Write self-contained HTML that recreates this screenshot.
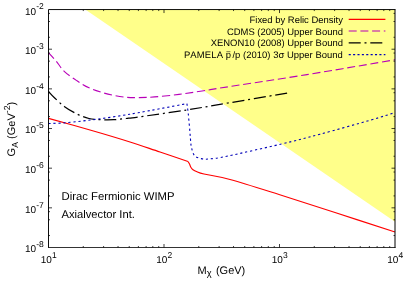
<!DOCTYPE html>
<html><head><meta charset="utf-8"><title>plot</title>
<style>
html,body{margin:0;padding:0;background:#fff;}
body{width:407px;height:285px;overflow:hidden;}
svg{display:block;opacity:0.999;will-change:transform;}
text{font-family:"Liberation Sans",sans-serif;fill:#000;text-rendering:geometricPrecision;font-kerning:none;}
</style></head><body>
<svg width="407" height="285" viewBox="0 0 407 285">
<rect width="407" height="285" fill="#fff"/>
<polygon points="85.3,9.55 395.0,9.55 395.0,221.7" fill="#ffff8a"/>
<path d="M48.5,118.4 C55.4,120.3 76.4,126.1 90.0,130.0 C103.6,133.9 118.3,138.3 130.0,142.0 C141.7,145.7 150.3,148.8 160.0,152.0 C169.7,155.2 183.3,159.9 188.0,161.5 " fill="none" stroke="#ff0000" stroke-width="1.15"/>
<path d="M188.0,161.5 C188.2,161.9 189.0,163.0 189.5,164.0 C190.0,165.0 190.4,166.6 191.0,167.5 C191.6,168.4 192.0,169.0 193.0,169.7 C194.0,170.4 195.2,171.0 197.0,171.7 C198.8,172.4 198.5,172.7 204.0,174.0 C209.5,175.3 217.5,176.1 230.0,179.5 C242.5,182.9 261.5,189.0 279.0,194.5 C296.5,200.0 315.7,206.2 335.0,212.5 C354.3,218.8 385.0,228.8 395.0,232.0" fill="none" stroke="#ff0000" stroke-width="1.15"/>
<path d="M48.5,52.8 C49.8,54.2 53.3,57.9 56.0,61.0 C58.7,64.1 61.0,68.3 64.5,71.6 C68.0,74.9 72.9,78.1 77.0,80.8 C81.1,83.5 84.9,85.9 89.0,87.8 C93.1,89.7 97.3,91.0 101.4,92.3 C105.5,93.6 109.6,94.6 113.7,95.4 C117.8,96.2 122.0,96.9 126.0,97.3 C130.1,97.7 133.2,97.7 138.0,97.6 C142.8,97.5 147.8,97.4 154.6,96.9 C161.4,96.4 170.8,95.4 179.0,94.4 C187.2,93.4 195.2,92.0 203.7,90.7 C212.2,89.4 212.8,89.2 230.0,86.5 C247.2,83.8 279.5,79.0 307.0,74.6 C334.5,70.1 380.3,62.3 395.0,59.8" fill="none" stroke="#b800b8" stroke-width="1.1" stroke-dasharray="8 3.7"/>
<path d="M48.5,91.4 C49.5,92.5 52.0,95.5 54.7,98.0 C57.4,100.5 60.9,104.0 64.6,106.7 C68.3,109.4 72.9,112.0 77.0,114.0 C81.1,116.0 84.9,117.5 89.0,118.5 C93.1,119.5 97.3,119.5 101.4,119.7 C105.5,119.9 109.6,119.9 113.7,119.7 C117.8,119.5 121.9,119.0 126.0,118.5 C130.1,118.0 128.2,118.4 138.3,117.0 C148.4,115.6 171.6,112.3 186.5,110.0 C201.4,107.7 211.2,105.8 228.0,103.0 C244.8,100.2 277.7,94.7 287.6,93.0" fill="none" stroke="#000" stroke-width="1.25" stroke-dasharray="12 3.8 2 3.8"/>
<path d="M48.5,123.5 C51.0,123.4 57.8,123.3 63.6,122.9 C69.4,122.5 76.7,121.7 83.3,120.9 C89.9,120.2 96.5,119.3 103.0,118.4 C109.5,117.5 116.8,116.3 122.6,115.4 C128.4,114.5 131.8,113.9 138.0,112.8 C144.2,111.7 151.8,110.2 160.0,108.7 C168.2,107.2 182.4,104.4 186.9,103.6 L186.9,103.6 C187.1,105.2 187.8,109.3 188.2,113.0 C188.6,116.7 189.0,121.8 189.4,126.0 C189.8,130.2 190.1,134.5 190.4,138.0 C190.7,141.5 190.7,144.1 191.4,147.0 C192.1,149.9 192.8,153.6 194.4,155.5 C196.0,157.4 198.6,158.0 201.0,158.6 C203.4,159.2 204.1,159.4 208.6,159.0 C213.1,158.6 215.9,158.5 228.0,156.0 C240.1,153.5 266.1,147.6 281.4,144.0 C296.7,140.4 305.1,138.2 320.0,134.2 C334.9,130.2 358.5,123.6 371.0,120.0 C383.5,116.4 391.0,113.8 395.0,112.6" fill="none" stroke="#0000b8" stroke-width="1.1" stroke-dasharray="2.2 2.8" stroke-linejoin="round"/>
<path d="M83.27,247.5v-1.5M83.27,9.55v1.5M103.61,247.5v-1.5M103.61,9.55v1.5M118.04,247.5v-1.5M118.04,9.55v1.5M129.23,247.5v-1.5M129.23,9.55v1.5M138.38,247.5v-1.5M138.38,9.55v1.5M146.11,247.5v-1.5M146.11,9.55v1.5M152.81,247.5v-1.5M152.81,9.55v1.5M158.72,247.5v-1.5M158.72,9.55v1.5M164.00,247.5v-3.5M164.00,9.55v3.5M198.77,247.5v-1.5M198.77,9.55v1.5M219.11,247.5v-1.5M219.11,9.55v1.5M233.54,247.5v-1.5M233.54,9.55v1.5M244.73,247.5v-1.5M244.73,9.55v1.5M253.88,247.5v-1.5M253.88,9.55v1.5M261.61,247.5v-1.5M261.61,9.55v1.5M268.31,247.5v-1.5M268.31,9.55v1.5M274.22,247.5v-1.5M274.22,9.55v1.5M279.50,247.5v-3.5M279.50,9.55v3.5M314.27,247.5v-1.5M314.27,9.55v1.5M334.61,247.5v-1.5M334.61,9.55v1.5M349.04,247.5v-1.5M349.04,9.55v1.5M360.23,247.5v-1.5M360.23,9.55v1.5M369.38,247.5v-1.5M369.38,9.55v1.5M377.11,247.5v-1.5M377.11,9.55v1.5M383.81,247.5v-1.5M383.81,9.55v1.5M389.72,247.5v-1.5M389.72,9.55v1.5M48.5,37.27h1.5M395.0,37.27h-1.5M48.5,21.49h1.5M395.0,21.49h-1.5M48.5,13.39h1.5M395.0,13.39h-1.5M48.5,49.21h3.5M395.0,49.21h-3.5M48.5,76.93h1.5M395.0,76.93h-1.5M48.5,61.15h1.5M395.0,61.15h-1.5M48.5,53.05h1.5M395.0,53.05h-1.5M48.5,88.87h3.5M395.0,88.87h-3.5M48.5,116.59h1.5M395.0,116.59h-1.5M48.5,100.81h1.5M395.0,100.81h-1.5M48.5,92.71h1.5M395.0,92.71h-1.5M48.5,128.52h3.5M395.0,128.52h-3.5M48.5,156.24h1.5M395.0,156.24h-1.5M48.5,140.46h1.5M395.0,140.46h-1.5M48.5,132.37h1.5M395.0,132.37h-1.5M48.5,168.18h3.5M395.0,168.18h-3.5M48.5,195.90h1.5M395.0,195.90h-1.5M48.5,180.12h1.5M395.0,180.12h-1.5M48.5,172.03h1.5M395.0,172.03h-1.5M48.5,207.84h3.5M395.0,207.84h-3.5M48.5,235.56h1.5M395.0,235.56h-1.5M48.5,219.78h1.5M395.0,219.78h-1.5M48.5,211.68h1.5M395.0,211.68h-1.5" stroke="#000" stroke-width="0.75" fill="none"/>
<path d="M48.5,247.9V9.55H395.5" fill="none" stroke="#000" stroke-width="0.95"/>
<path d="M48.5,247.5H395.5" fill="none" stroke="#000" stroke-width="0.8"/>
<path d="M395.0,9.55V247.9" fill="none" stroke="#000" stroke-width="1.0"/>
<text x="43.7" y="14.5" text-anchor="end" font-size="10">10<tspan font-size="8.5" dy="-5.2">-2</tspan></text>
<text x="43.7" y="54.1" text-anchor="end" font-size="10">10<tspan font-size="8.5" dy="-5.2">-3</tspan></text>
<text x="43.7" y="93.8" text-anchor="end" font-size="10">10<tspan font-size="8.5" dy="-5.2">-4</tspan></text>
<text x="43.7" y="133.4" text-anchor="end" font-size="10">10<tspan font-size="8.5" dy="-5.2">-5</tspan></text>
<text x="43.7" y="173.1" text-anchor="end" font-size="10">10<tspan font-size="8.5" dy="-5.2">-6</tspan></text>
<text x="43.7" y="212.7" text-anchor="end" font-size="10">10<tspan font-size="8.5" dy="-5.2">-7</tspan></text>
<text x="43.7" y="252.4" text-anchor="end" font-size="10">10<tspan font-size="8.5" dy="-5.2">-8</tspan></text>
<text x="40.8" y="262.8" font-size="10">10<tspan font-size="8.5" dy="-5.0" dx="0">1</tspan></text>
<text x="156.3" y="262.8" font-size="10">10<tspan font-size="8.5" dy="-5.0" dx="0">2</tspan></text>
<text x="271.8" y="262.8" font-size="10">10<tspan font-size="8.5" dy="-5.0" dx="0">3</tspan></text>
<text x="387.3" y="262.8" font-size="10">10<tspan font-size="8.5" dy="-5.0" dx="0">4</tspan></text>
<text x="197.6" y="274.2" font-size="11">M<tspan font-size="9.3" dy="2.2">χ</tspan><tspan dy="-2.2" dx="1.2"> (GeV)</tspan></text>
<text transform="translate(14.8,156.4) rotate(-90)" font-size="11">G<tspan font-size="8.8" dy="3.3">A</tspan><tspan dy="-3.3"> (GeV</tspan><tspan font-size="8.8" dy="-5">-2</tspan><tspan dy="5">)</tspan></text>
<text x="61.5" y="200" font-size="11.3">Dirac Fermionic WIMP</text>
<text x="61.5" y="218.2" font-size="11.2">Axialvector Int.</text>
<text x="342.9" y="22.65" text-anchor="end" font-size="9.45">Fixed by Relic Density</text>
<text x="342.9" y="34.85" text-anchor="end" font-size="9.45">CDMS (2005) Upper Bound</text>
<text x="342.9" y="46.15" text-anchor="end" font-size="9.45">XENON10 (2008) Upper Bound</text>
<text x="342.9" y="58.35" text-anchor="end" font-size="9.45" letter-spacing="0.03">/p (2010) 3σ Upper Bound</text>
<text x="183.9" y="58.35" font-size="9.45" letter-spacing="0.15">PAMELA p</text>
<path d="M226.4,51.7H230.4" stroke="#000" stroke-width="0.7" stroke-opacity="0.75"/>
<path d="M348.7,19.3H385.4" stroke="#ff0000" stroke-width="1.15"/>
<path d="M348.7,31.05H385.4" stroke="#b800b8" stroke-width="1.1" stroke-dasharray="8 3.7"/>
<path d="M348.7,42.8H383" stroke="#000" stroke-width="1.25" stroke-dasharray="12 3.8 2 3.8"/>
<path d="M348.7,54.6H385.4" stroke="#0000b8" stroke-width="1.2" stroke-dasharray="2.1 2.28"/>
</svg>
</body></html>
